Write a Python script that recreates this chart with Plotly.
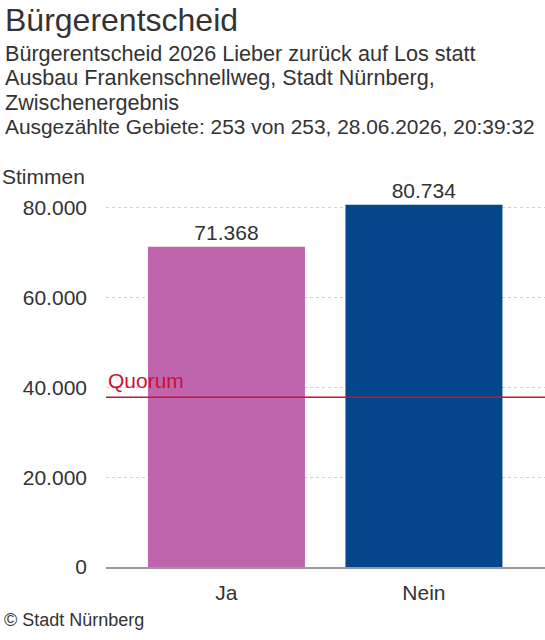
import plotly.graph_objects as go

categories = ["Ja", "Nein"]
votes = [71368, 80734]
bar_colors = ["#BE65AD", "#03468A"]
quorum = 37800
y_ticks = [0, 20000, 40000, 60000, 80000]

title = "Bürgerentscheid"
subtitle_lines = [
    "Bürgerentscheid 2026 Lieber zurück auf Los statt",
    "Ausbau Frankenschnellweg, Stadt Nürnberg,",
    "Zwischenergebnis",
    "Ausgezählte Gebiete: 253 von 253, 28.06.2026, 20:39:32",
]
source = "© Stadt Nürnberg"

W, H = 545, 640
L, R, T, B = 106, 0, 190, 73
PW, PH = W - L - R, H - T - B
FONT = "Liberation Sans, Arial, sans-serif"
TXT = "#333333"


def px(x):
    return (x - L) / PW


def py(y):
    return (H - B - y) / PH


fig = go.Figure()
fig.add_trace(go.Bar(
    x=categories, y=votes, marker=dict(color=bar_colors, line=dict(width=0)),
    text=votes, texttemplate="%{y:,}", textposition="outside",
    textfont=dict(size=21, color=TXT, family=FONT), cliponaxis=False,
    hoverinfo="skip",
))

fig.add_shape(type="line", xref="paper", x0=0, x1=1, yref="y", y0=quorum, y1=quorum,
              line=dict(color="#D0102E", width=1.5), layer="above")

ann = []
ann.append(dict(text=title, x=px(3), y=py(20), xanchor="left", yanchor="middle",
                font=dict(size=32, color=TXT, family=FONT)))
for i, line in enumerate(subtitle_lines):
    size = 21.6 if i < len(subtitle_lines) - 1 else 20.9
    ann.append(dict(text=line, x=px(3), y=py(53 + i * 24.6), xanchor="left", yanchor="middle",
                    font=dict(size=size, color=TXT, family=FONT)))
ann.append(dict(text="Stimmen", x=px(87), y=py(177), xanchor="right", yanchor="middle",
                font=dict(size=21, color=TXT, family=FONT)))
ann.append(dict(text="Quorum", xref="paper", x=0, yref="y", y=quorum, xanchor="left",
                yanchor="bottom", yshift=3, font=dict(size=21, color="#D0102E", family=FONT)))
ann.append(dict(text=source, x=px(2), y=py(620), xanchor="left", yanchor="middle",
                font=dict(size=18, color=TXT, family=FONT)))
for a in ann:
    a.setdefault("xref", "paper")
    a.setdefault("yref", "paper")
    a["showarrow"] = False

fig.update_layout(
    width=W, height=H, margin=dict(l=L, r=R, t=T, b=B, autoexpand=False),
    paper_bgcolor="white", plot_bgcolor="white", separators=",.",
    showlegend=False, bargap=0.205, annotations=ann,
    font=dict(family=FONT, color=TXT, size=21),
)
fig.update_xaxes(range=[-0.61, 1.613], showgrid=False, showline=True, linecolor="#9a9a9a",
                 linewidth=2, ticks="", tickfont=dict(size=21, color=TXT), ticklabelstandoff=6)
fig.update_yaxes(range=[0, 84000], tickvals=y_ticks, tickformat=",d", showgrid=True,
                 gridcolor="#d0d0d0", griddash="dot", gridwidth=1, zeroline=False,
                 showline=False, ticks="", tickfont=dict(size=21, color=TXT),
                 ticklabelstandoff=18)

fig.write_html("out.html")
